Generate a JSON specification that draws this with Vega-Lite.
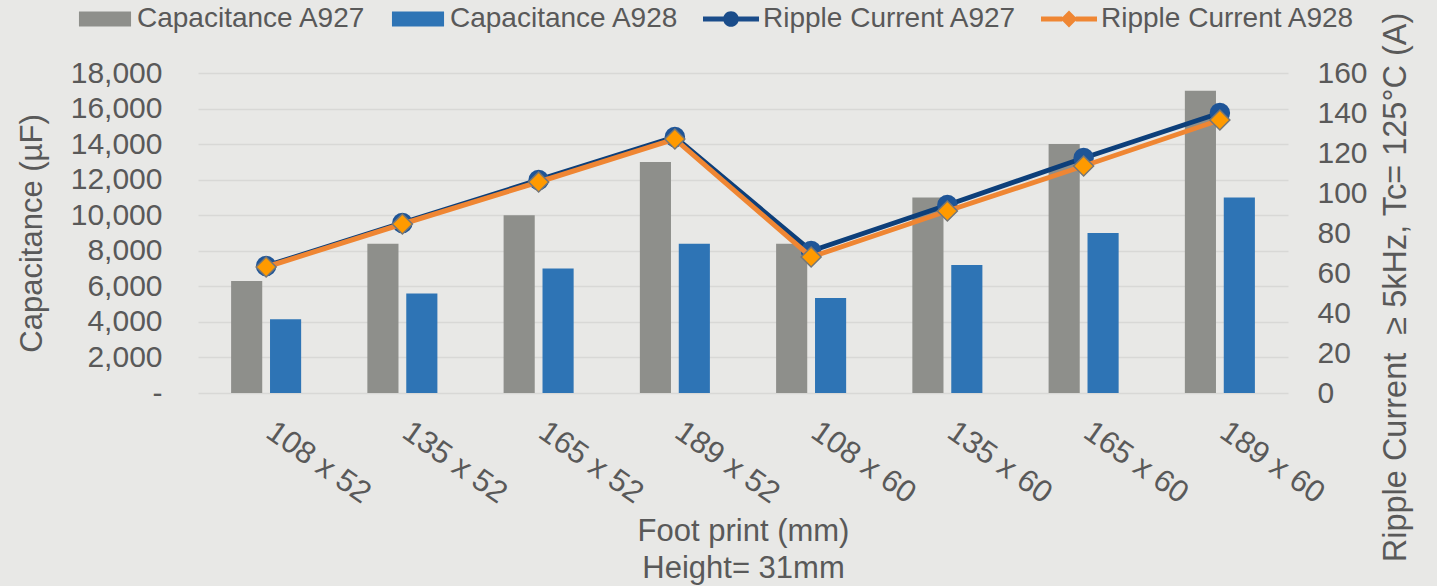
{
  "$schema": "https://vega.github.io/schema/vega-lite/v6.json",
  "width": 1090,
  "height": 320,
  "autosize": {"type": "none"},
  "padding": {"left": 198, "top": 73, "right": 149, "bottom": 193},
  "background": "#e8e8e6",
  "config": {
    "view": {"stroke": null},
    "font": "Liberation Sans",
    "axis": {
      "labelFont": "Liberation Sans",
      "titleFont": "Liberation Sans",
      "labelColor": "#595959",
      "titleColor": "#595959",
      "labelFontSize": 30,
      "titleFontSize": 31,
      "titleFontWeight": "normal",
      "tickSize": 0,
      "ticks": false,
      "domain": false
    },
    "legend": {
      "labelFont": "Liberation Sans",
      "labelFontSize": 28,
      "labelColor": "#595959",
      "symbolSize": 3136,
      "symbolStrokeWidth": 0,
      "symbolOpacity": 1,
      "labelOffset": 4,
      "columnPadding": 24,
      "padding": 0,
      "rowPadding": 0,
      "labelLimit": 400
    }
  },
  "data": {
    "values": [
      {"fp": "108 x 52", "series": "Capacitance A927", "value": 6300},
      {"fp": "135 x 52", "series": "Capacitance A927", "value": 8400},
      {"fp": "165 x 52", "series": "Capacitance A927", "value": 10000},
      {"fp": "189 x 52", "series": "Capacitance A927", "value": 13000},
      {"fp": "108 x 60", "series": "Capacitance A927", "value": 8400},
      {"fp": "135 x 60", "series": "Capacitance A927", "value": 11000},
      {"fp": "165 x 60", "series": "Capacitance A927", "value": 14000},
      {"fp": "189 x 60", "series": "Capacitance A927", "value": 17000},
      {"fp": "108 x 52", "series": "Capacitance A928", "value": 4150},
      {"fp": "135 x 52", "series": "Capacitance A928", "value": 5600},
      {"fp": "165 x 52", "series": "Capacitance A928", "value": 7000},
      {"fp": "189 x 52", "series": "Capacitance A928", "value": 8400},
      {"fp": "108 x 60", "series": "Capacitance A928", "value": 5350},
      {"fp": "135 x 60", "series": "Capacitance A928", "value": 7200},
      {"fp": "165 x 60", "series": "Capacitance A928", "value": 9000},
      {"fp": "189 x 60", "series": "Capacitance A928", "value": 11000},
      {"fp": "108 x 52", "series": "Ripple Current A927", "value": 63.5},
      {"fp": "135 x 52", "series": "Ripple Current A927", "value": 85},
      {"fp": "165 x 52", "series": "Ripple Current A927", "value": 106.5},
      {"fp": "189 x 52", "series": "Ripple Current A927", "value": 128},
      {"fp": "108 x 60", "series": "Ripple Current A927", "value": 71},
      {"fp": "135 x 60", "series": "Ripple Current A927", "value": 94},
      {"fp": "165 x 60", "series": "Ripple Current A927", "value": 117.5},
      {"fp": "189 x 60", "series": "Ripple Current A927", "value": 140},
      {"fp": "108 x 52", "series": "Ripple Current A928", "value": 63},
      {"fp": "135 x 52", "series": "Ripple Current A928", "value": 84.5},
      {"fp": "165 x 52", "series": "Ripple Current A928", "value": 105.5},
      {"fp": "189 x 52", "series": "Ripple Current A928", "value": 127},
      {"fp": "108 x 60", "series": "Ripple Current A928", "value": 68},
      {"fp": "135 x 60", "series": "Ripple Current A928", "value": 91},
      {"fp": "165 x 60", "series": "Ripple Current A928", "value": 113.5},
      {"fp": "189 x 60", "series": "Ripple Current A928", "value": 136.5}
    ]
  },
  "encoding": {
    "x": {
      "field": "fp",
      "type": "nominal",
      "sort": null,
      "scale": {"paddingInner": 0.486, "paddingOuter": 0.243},
      "axis": {
        "title": ["Foot print (mm)", "Height= 31mm"],
        "labelAngle": 35,
        "labelAlign": "left",
        "labelBaseline": "top",
        "labelPadding": 23,
        "labelOffset": 12,
        "labelFontSize": 31,
        "labelOverlap": false,
        "titleY": 147,
        "titleBaseline": "alphabetic",
        "titleLineHeight": 37
      }
    }
  },
  "layer": [
    {
      "encoding": {
        "y": {
          "field": "value",
          "type": "quantitative",
          "scale": {"domain": [0, 18000], "nice": false},
          "axis": {
            "title": "Capacitance (µF)",
            "values": [0, 2000, 4000, 6000, 8000, 10000, 12000, 14000, 16000, 18000],
            "labelExpr": "datum.value === 0 ? '-  ' : format(datum.value, ',')",
            "grid": true,
            "gridColor": "#d8d8d6",
            "gridWidth": 1.5,
            "labelPadding": 36,
            "titleX": -166,
            "titleY": 160,
            "titleAngle": 270,
            "titleAlign": "center",
            "titleBaseline": "middle"
          }
        }
      },
      "layer": [
        {
          "transform": [{"filter": "indexof(datum.series, 'Capacitance') === 0"}],
          "mark": {"type": "bar"},
          "encoding": {
            "xOffset": {
              "field": "series",
              "type": "nominal",
              "scale": {"domain": ["Capacitance A927", "Capacitance A928"], "paddingInner": 0.2}
            },
            "color": {
              "field": "series",
              "type": "nominal",
              "scale": {
                "domain": ["Capacitance A927", "Capacitance A928", "Ripple Current A927", "Ripple Current A928"],
                "range": ["#8e8f8b", "#2e74b5", "#1a4c8a", "#ef8633"]
              },
              "legend": {"orient": "none", "legendX": -121, "legendY": -82, "direction": "horizontal", "columns": 4, "title": null}
            }
          }
        },
        {
          "mark": {"type": "point", "filled": true, "opacity": 0},
          "encoding": {
            "color": {
              "field": "series",
              "type": "nominal",
              "scale": {
                "domain": ["Capacitance A927", "Capacitance A928", "Ripple Current A927", "Ripple Current A928"],
                "range": ["#8e8f8b", "#2e74b5", "#1a4c8a", "#ef8633"]
              },
              "legend": {"orient": "none", "legendX": -121, "legendY": -82, "direction": "horizontal", "columns": 4, "title": null}
            },
            "shape": {
              "field": "series",
              "type": "nominal",
              "scale": {
                "domain": ["Capacitance A927", "Capacitance A928", "Ripple Current A927", "Ripple Current A928"],
                "range": [
                  "M-0.93,-0.27H0.93V0.27H-0.93Z",
                  "M-0.93,-0.27H0.93V0.27H-0.93Z",
                  "M-1,-0.09H-0.26V0.09H-1Z M0.26,-0.09H1V0.09H0.26Z M0.28,0A0.28,0.28 0 1 1 -0.28,0A0.28,0.28 0 1 1 0.28,0Z",
                  "M-1,-0.09H-0.24V0.09H-1Z M0.24,-0.09H1V0.09H0.24Z M0,-0.3L0.3,0L0,0.3L-0.3,0Z"
                ]
              },
              "legend": {"orient": "none", "legendX": -121, "legendY": -82, "direction": "horizontal", "columns": 4, "title": null}
            }
          }
        }
      ]
    },
    {
      "encoding": {
        "y": {
          "field": "value",
          "type": "quantitative",
          "scale": {"domain": [0, 160], "nice": false},
          "axis": {
            "orient": "right",
            "title": "Ripple Current \u00a0≥ 5kHz, Tc= 125°C (A)",
            "titleFontSize": 32.5,
            "values": [0, 20, 40, 60, 80, 100, 120, 140, 160],
            "grid": false,
            "labelPadding": 29,
            "labelAlign": "left",
            "titleAngle": 270,
            "titleX": 107,
            "titleY": 214,
            "titleAlign": "center",
            "titleBaseline": "middle"
          }
        }
      },
      "layer": [
        {
          "transform": [{"filter": "datum.series === 'Ripple Current A927'"}],
          "mark": {"type": "line", "color": "#0d3f7a", "strokeWidth": 5}
        },
        {
          "transform": [{"filter": "datum.series === 'Ripple Current A927'"}],
          "mark": {"type": "point", "shape": "circle", "filled": true, "color": "#1f5597", "size": 420, "opacity": 1}
        },
        {
          "transform": [{"filter": "datum.series === 'Ripple Current A928'"}],
          "mark": {"type": "line", "color": "#ef8633", "strokeWidth": 5}
        },
        {
          "transform": [{"filter": "datum.series === 'Ripple Current A928'"}],
          "mark": {"type": "point", "shape": "diamond", "filled": true, "fill": "#ff9a00", "stroke": "#767676", "strokeWidth": 1.5, "size": 400, "opacity": 1}
        }
      ]
    }
  ],
  "resolve": {"scale": {"y": "independent"}}
}
